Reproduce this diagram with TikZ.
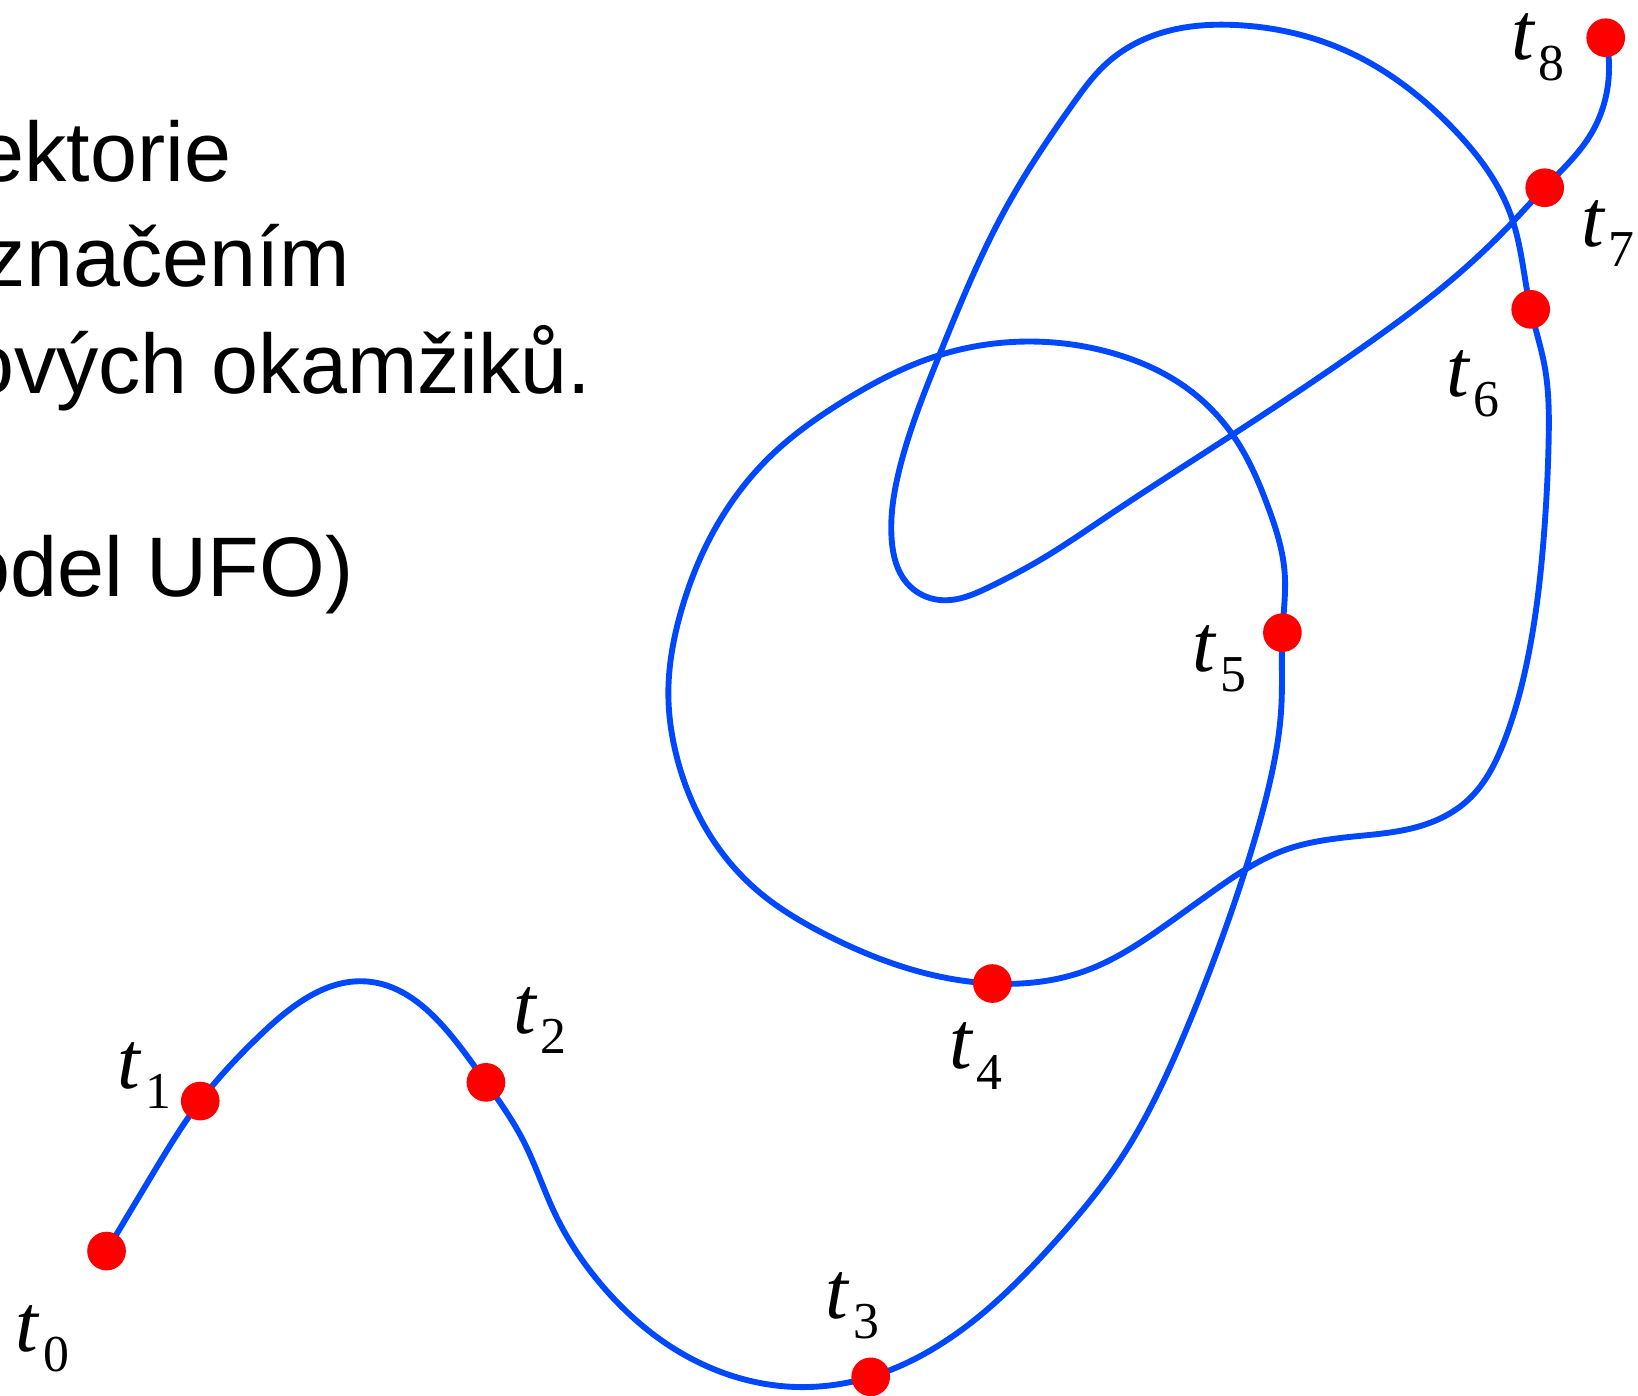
\documentclass[tikz,border=0pt]{standalone}
\usepackage{fontspec}
\usetikzlibrary{hobby}
\setmainfont{Liberation Serif}
\newfontfamily\capsans{Liberation Sans}
\definecolor{trajblue}{RGB}{0,72,255}
\definecolor{dotred}{RGB}{255,0,0}
\newcommand{\tlab}[1]{{\fontsize{22.2}{24}\selectfont\itshape t}\kern1.4pt\raisebox{-5.5pt}{\fontsize{14.1}{16}\selectfont #1}}
\begin{document}
\begin{tikzpicture}[x=0.01cm,y=-0.01cm,
  traj/.style={draw=trajblue, line width=1.6pt, line cap=round, line join=round},
  reddot/.style={circle, fill=dotred, inner sep=0pt, minimum size=0.37cm},
  tlabel/.style={anchor=base west, inner sep=0pt},
  captxt/.style={anchor=base east, inner sep=0pt, font=\capsans\fontsize{23}{28}\selectfont}]
\useasboundingbox (0,0) rectangle (1568,1336);
\clip (0,0) rectangle (1568,1336);
% caption (cut at the left edge)
\node[captxt] (cap1) at (222,174) {ektorie};
\node[captxt] (cap2) at (336,274.5) {značením};
\node[captxt] (cap3) at (567,376.5) {ových okamžiků.};
\node[captxt] (cap4) at (339,571) {odel UFO)};
% time points
\coordinate (c0) at (102,1197.6);
\coordinate (c1) at (191.7,1054);
\coordinate (c2) at (465.2,1036.1);
\coordinate (c3) at (833.5,1318);
\coordinate (c4) at (950,941.5);
\coordinate (c5) at (1227.6,605.6);
\coordinate (c6) at (1465.3,296.1);
\coordinate (c7) at (1478.7,179.7);
\coordinate (c8) at (1537.1,36.1);
% trajectory
\draw[traj, use Hobby shortcut]
 (c0) .. (146.5,1123.2) .. (c1) .. (250,990) .. (354.1,939.8) .. (427.4,986)
 .. (c2) .. (500.6,1091.3) .. (531.1,1161.5) .. (580,1234.9) .. (647.2,1292.3) .. (757,1327.5)
 .. (c3) .. (930.1,1265.8) .. (1009.5,1189.2) .. (1070.6,1112.7) .. (1131.5,995.3) .. (1162.1,918.8)
 .. (1191.5,834.6) .. (1213.8,756.3) .. (1226.6,676.5)
 .. (c5) .. (1229.8,548.8) .. (1213.8,485) .. (1181.9,419) .. (1134,370) .. (1070,339.5)
 .. (995.6,327.1) .. (899.9,339.8) .. (804.1,386.1) .. (740.3,434) .. (689.3,497.8)
 .. (652,585) .. (639.8,663.7) .. (647.8,724.4) .. (676.5,794.5) .. (724.4,852) .. (788.2,893.5)
 .. (c4) .. (1040,929) .. (1119.4,883.1) .. (1162.1,852.5) .. (1229.8,813.7)
 .. (1293.6,801) .. (1357.4,791.4) .. (1405.3,765.8) .. (1440.4,708.4) .. (1462.8,628.6)
 .. (1478.5,505) .. (1482.5,420) .. (1478.7,351)
 .. (c6) .. (1446.8,207.4) .. (1389.3,121.3) .. (1293.6,51) .. (1181.9,23.9) .. (1110,32)
 .. (1059.4,60.6) .. (1027.5,98.9) .. (963.7,197.8)
 .. (899.9,338.2) .. (861.6,446.8) .. (853.6,516.9)
 .. (868,558) .. (899.9,574.4) .. (947.7,561.6) .. (995.6,536.1)
 .. (1059.4,494.6) .. (1181.9,414.8) .. (1309.6,328.7) .. (1389.3,268) .. (1448.4,212.2)
 .. (c7) .. (1523.4,127.6) .. (1539.4,79.8) .. (c8);
% dots
\foreach \i in {0,...,8} { \node[reddot] (d\i) at (c\i) {}; }
% labels
\node[tlabel] (l0) at (14,1294) {\tlab{0}};
\node[tlabel] (l1) at (112,1041.9) {\tlab{1}};
\node[tlabel] (l2) at (490.5,989.2) {\tlab{2}};
\node[tlabel] (l3) at (789.7,1262) {\tlab{3}};
\node[tlabel] (l4) at (907.8,1023.3) {\tlab{4}};
\node[tlabel] (l5) at (1141,643) {\tlab{5}};
\node[tlabel] (l6) at (1383.6,379.7) {\tlab{6}};
\node[tlabel] (l7) at (1512.8,236.2) {\tlab{7}};
\node[tlabel] (l8) at (1445.8,57.4) {\tlab{8}};
\end{tikzpicture}
\end{document}
